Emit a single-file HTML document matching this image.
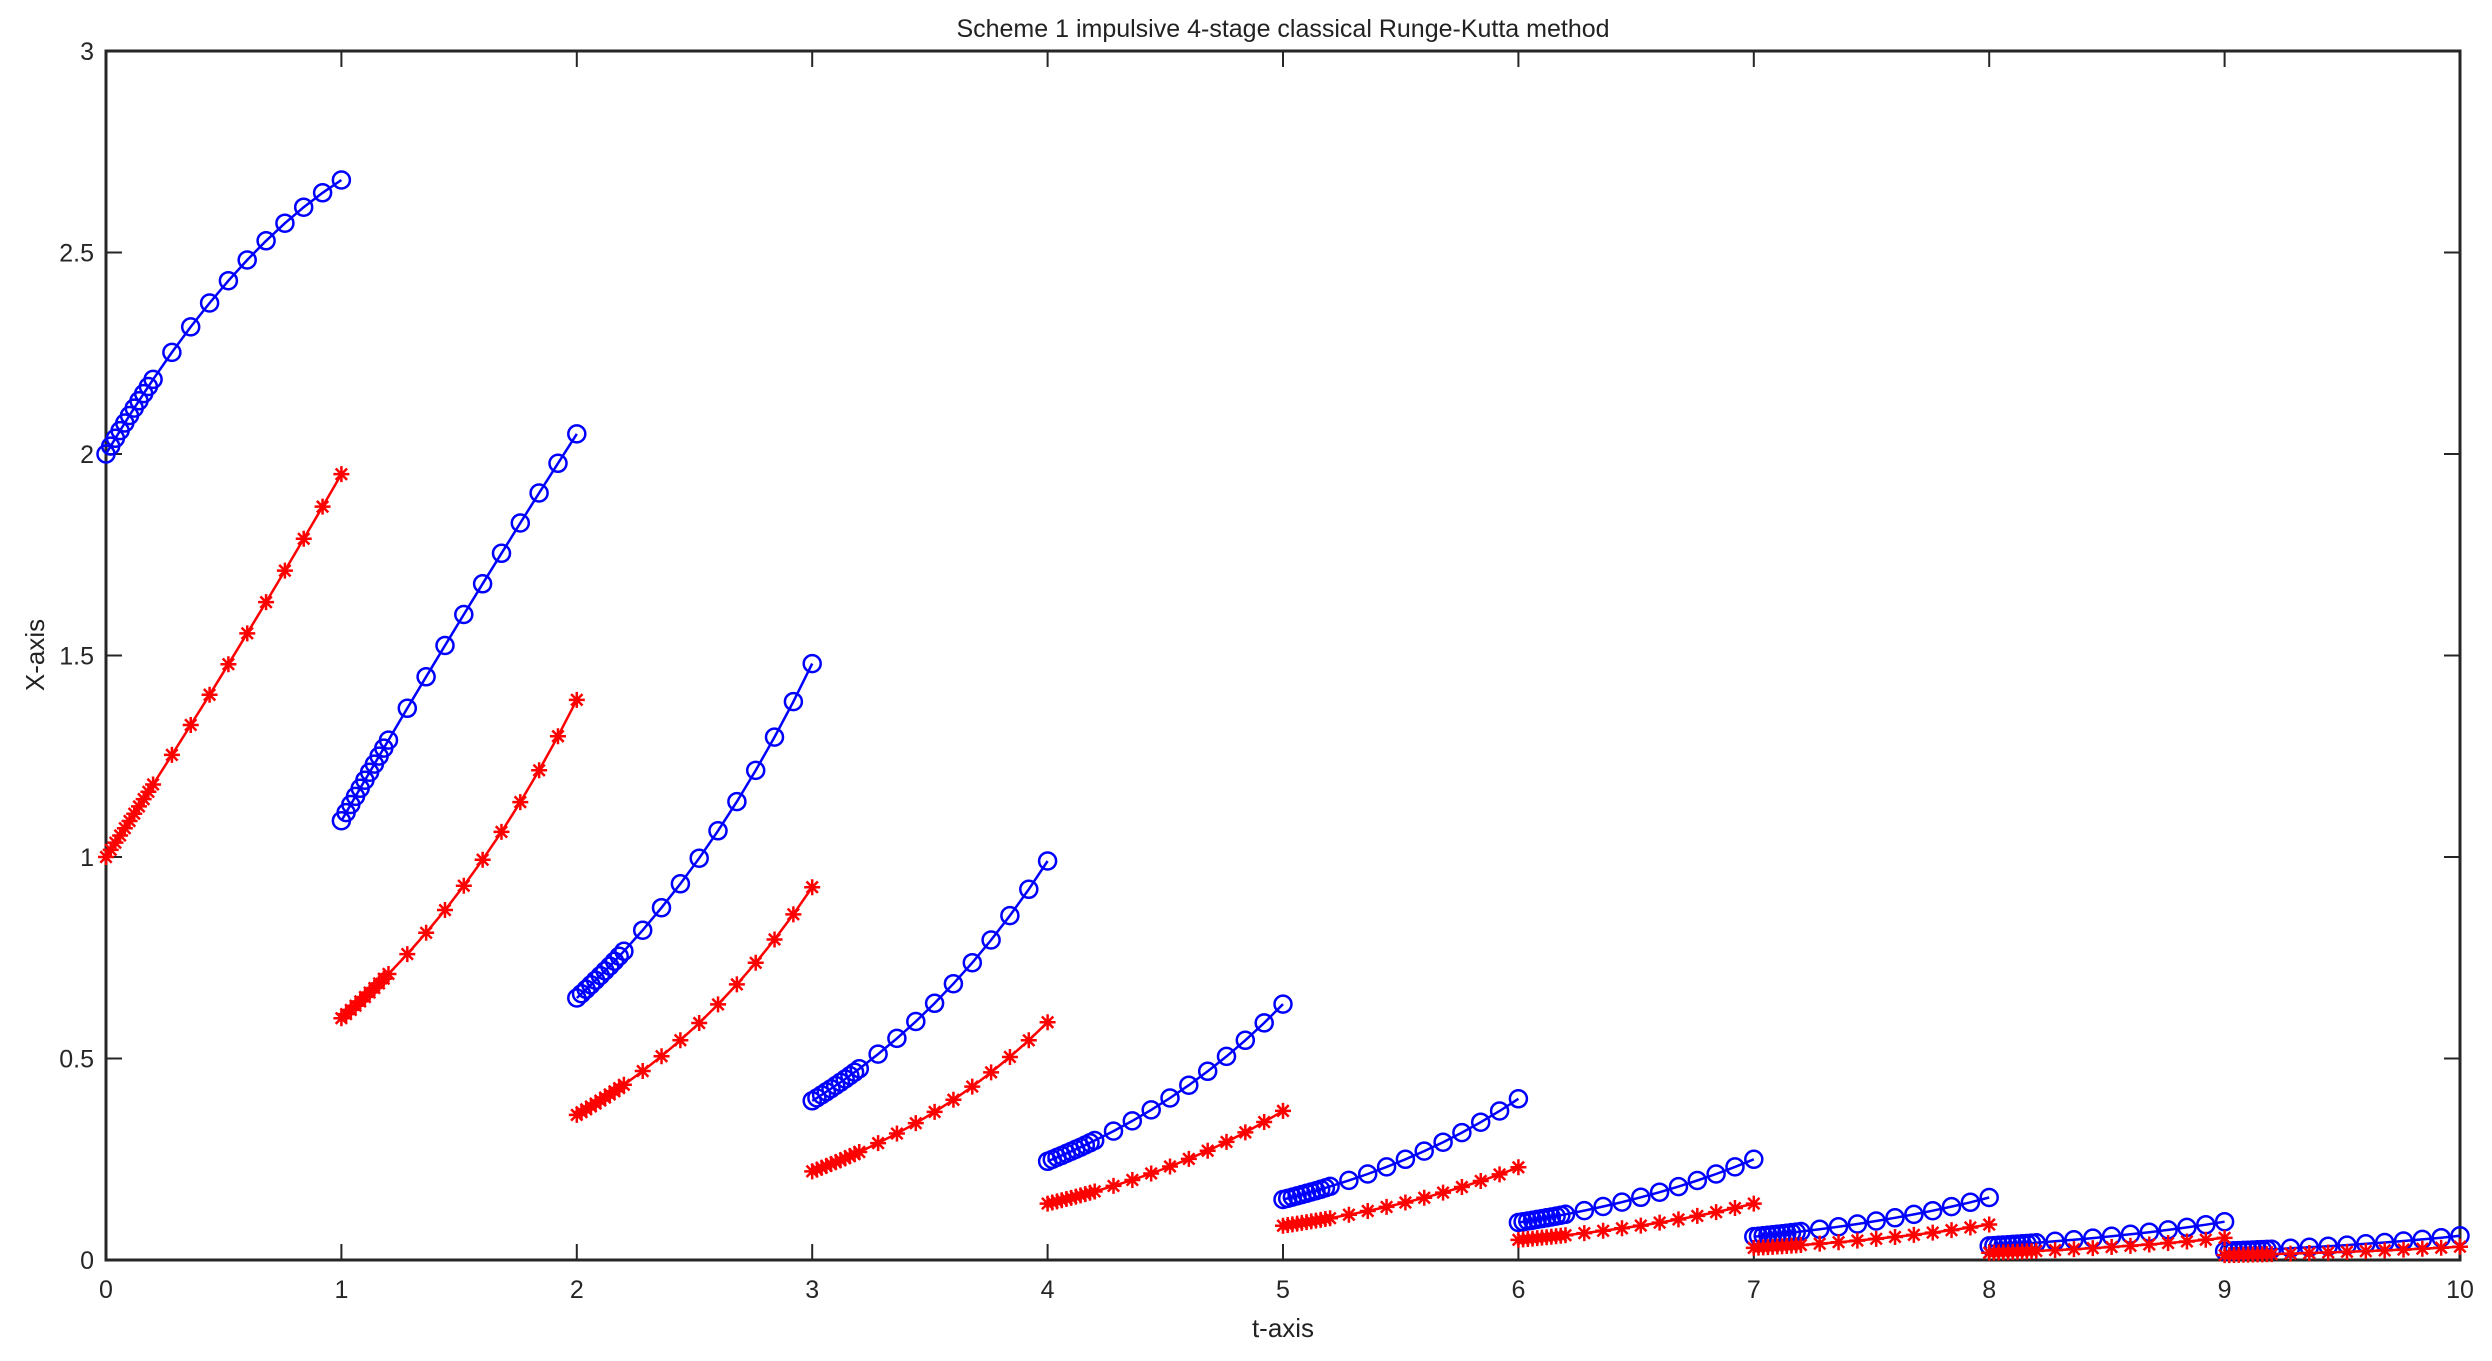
<!DOCTYPE html>
<html><head><meta charset="utf-8"><style>
html,body{margin:0;padding:0;background:#fff;}
svg{display:block;font-family:"Liberation Sans",sans-serif;}
</style></head><body>
<svg id="s" width="2492" height="1361" xmlns="http://www.w3.org/2000/svg"></svg>
<script>
const L=106,R=2460,T=51,B=1260;
const X=t=>L+(R-L)*t/10, Y=v=>B-(B-T)*v/3;
let h='<rect width="2492" height="1361" fill="#fff"/>';
h+='<text x="1283" y="37" font-size="25" text-anchor="middle" fill="#222">Scheme 1 impulsive 4-stage classical Runge-Kutta method</text>';
h+='<text x="1283" y="1337" font-size="26" text-anchor="middle" fill="#222">t-axis</text>';
h+='<text transform="translate(44,655) rotate(-90)" font-size="26" text-anchor="middle" fill="#222">X-axis</text>';
for(let i=0;i<=10;i++){const x=X(i);
 h+=`<line x1="${x}" y1="${B}" x2="${x}" y2="${B-16}" stroke="#262626" stroke-width="2"/><line x1="${x}" y1="${T}" x2="${x}" y2="${T+16}" stroke="#262626" stroke-width="2"/>`;
 h+=`<text x="${x}" y="${B+38}" font-size="25" text-anchor="middle" fill="#262626">${i}</text>`;}
for(let i=0;i<=6;i++){const v=i*0.5,y=Y(v);
 h+=`<line x1="${L}" y1="${y}" x2="${L+16}" y2="${y}" stroke="#262626" stroke-width="2"/><line x1="${R}" y1="${y}" x2="${R-16}" y2="${y}" stroke="#262626" stroke-width="2"/>`;
 h+=`<text x="${L-12}" y="${y+9}" font-size="25" text-anchor="end" fill="#262626">${v}</text>`;}
h+=`<rect x="${L}" y="${T}" width="${R-L}" height="${B-T}" fill="none" stroke="#262626" stroke-width="3"/>`;
const ts=[];for(let i=0;i<=10;i++)ts.push(i*0.02);for(let i=1;i<=10;i++)ts.push(0.2+i*0.08);
function quad(a,m,e){// through (0,a),(0.2,m),(1,e)
 const c=a; // v=a+p t+q t^2
 const q=((e-a)-(m-a)/0.2)/(1-0.2); const p=(e-a)-q; return t=>a+p*t+q*t*t;}
function ex(a,e){const b=Math.log(e/a);return t=>a*Math.exp(b*t);}
const blue=[quad(2,2.185,2.68),quad(1.09,1.29,2.05),ex(0.65,1.48),ex(0.395,0.99),ex(0.245,0.635),ex(0.15,0.40),ex(0.093,0.25),ex(0.058,0.155),ex(0.035,0.095),ex(0.022,0.06)];
const red=[quad(1,1.18,1.95),ex(0.6,1.39),ex(0.36,0.925),ex(0.22,0.59),ex(0.14,0.37),ex(0.085,0.23),ex(0.05,0.14),ex(0.03,0.088),ex(0.018,0.055),ex(0.012,0.033)];
function series(fs,col,mk){
 fs.forEach((f,k)=>{const pts=ts.map(t=>[X(k+t),Y(f(t))]);
  h+=`<polyline points="${pts.map(p=>p[0].toFixed(1)+','+p[1].toFixed(1)).join(' ')}" fill="none" stroke="${col}" stroke-width="2.5"/>`;
  pts.forEach(([x,y])=>{
   if(mk==='o')h+=`<circle cx="${x.toFixed(1)}" cy="${y.toFixed(1)}" r="8.5" fill="none" stroke="${col}" stroke-width="2.5"/>`;
   else{const r=8,d=5.7;h+=`<path d="M${x-r} ${y}H${x+r}M${x} ${y-r}V${y+r}M${x-d} ${y-d}L${x+d} ${y+d}M${x-d} ${y+d}L${x+d} ${y-d}" stroke="${col}" stroke-width="2.5"/>`;}
  });});}
series(blue,'#0000ff','o');
series(red,'#ff0000','*');
document.getElementById('s').innerHTML=h;
</script>
</body></html>
